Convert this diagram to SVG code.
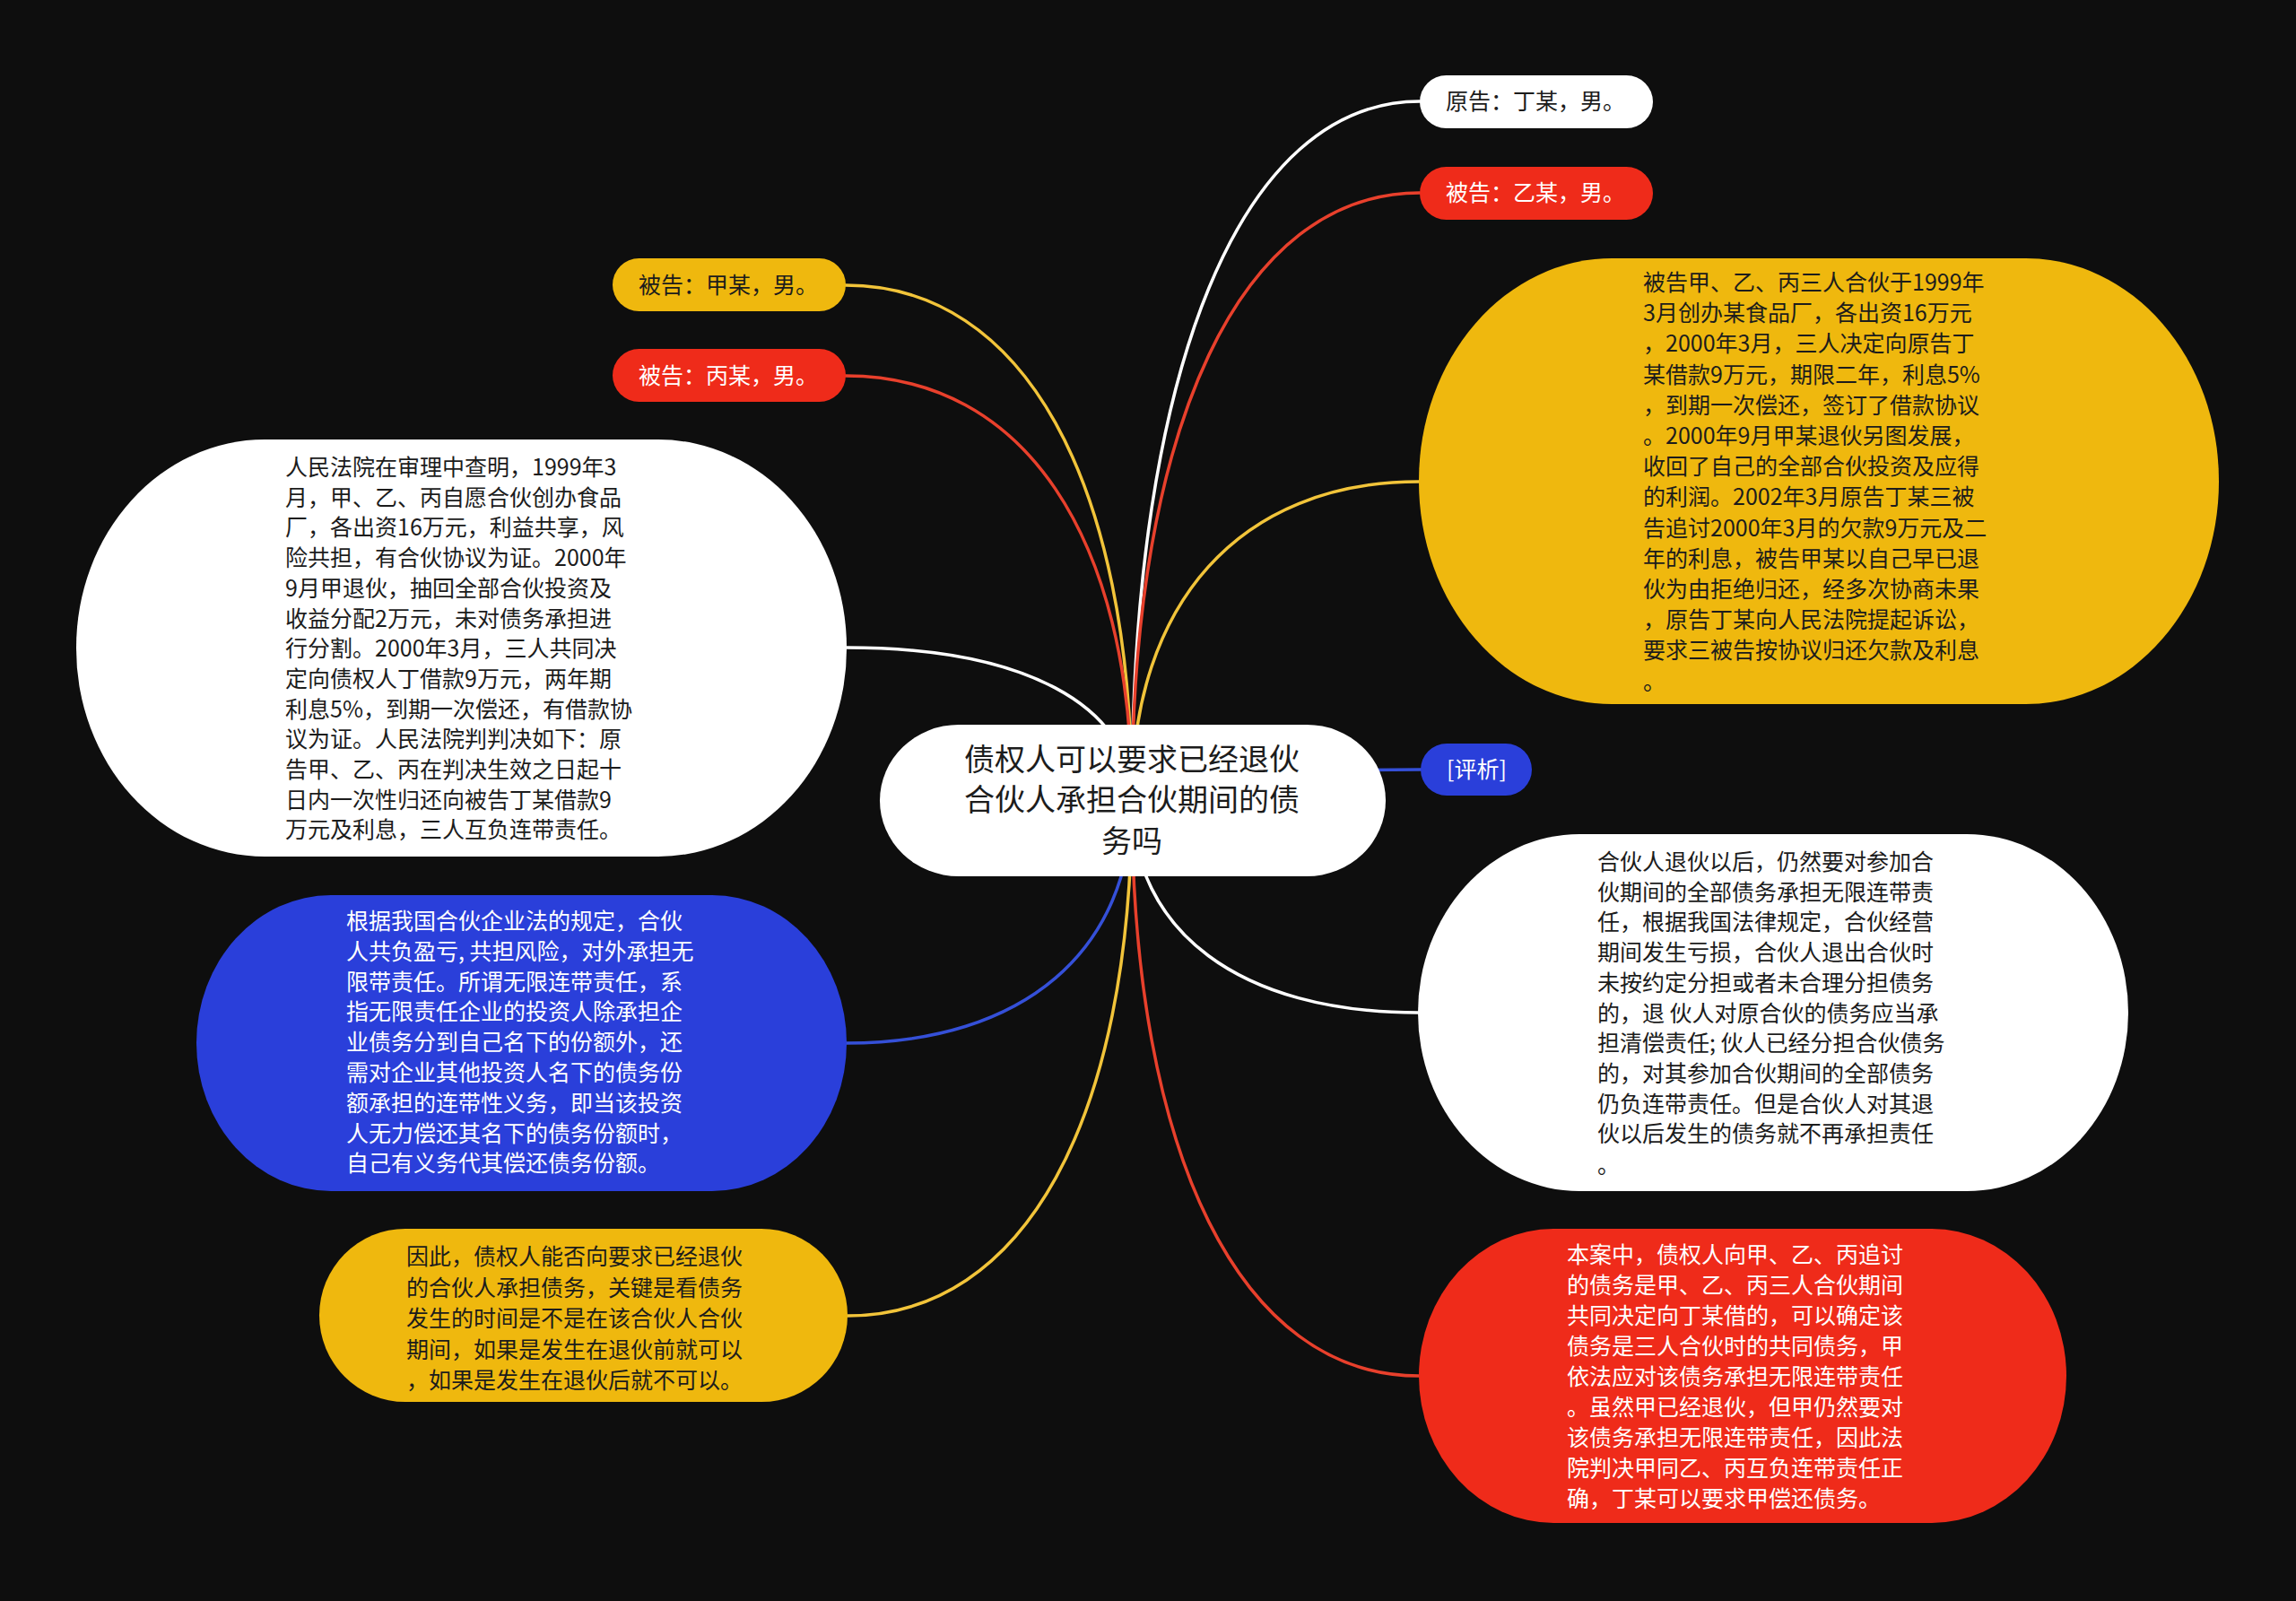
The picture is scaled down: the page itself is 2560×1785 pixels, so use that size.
<svg xmlns="http://www.w3.org/2000/svg" width="2560" height="1785" viewBox="0 0 2560 1785">
<style>
.bg{fill:#0e0e0e}
.c{fill:none;stroke-width:3.5;stroke-linecap:round}
.cw{stroke:#ffffff}.cr{stroke:#e8402c}.cy{stroke:#f2c43a}.cb{stroke:#3550d8}
.nw{fill:#ffffff}.nr{fill:#ef2b1a}.ny{fill:#efb80e}.nb{fill:#2a3fda}
text{font-family:"Noto Sans CJK SC","Noto Sans",sans-serif;font-size:25px}
.td{fill:#1c1c1c}.tl{fill:#ffffff}
.tc{font-size:34px;fill:#1c1c1c;text-anchor:middle}
</style>
<rect class="bg" x="0" y="0" width="2560" height="1785"/>
<g id="connectors">
<path class="c cw" d="M1262 891 C1262 409 1384 113 1583 113"/>
<path class="c cr" d="M1262 891 C1262 472 1384 215 1583 215"/>
<path class="c cy" d="M1262 891 C1262 672 1383 537 1582 537"/>
<path class="c cy" d="M1262 891 C1262 536 1141 318 943 318"/>
<path class="c cr" d="M1262 891 C1262 598 1141 419 943 419"/>
<path class="c cw" d="M1262 891 C1262 786 1141 722 944 722"/>
<path class="c cb" d="M1262 891 C1262 871 1384 858 1584 858"/>
<path class="c cb" d="M1262 891 C1262 1060 1141 1163 944 1163"/>
<path class="c cy" d="M1262 891 C1262 1248 1142 1467 945 1467"/>
<path class="c cw" d="M1262 891 C1262 1039 1383 1129 1581 1129"/>
<path class="c cr" d="M1262 891 C1262 1290 1384 1534 1582 1534"/>
</g>
<g id="node-center">
<rect class="nw" x="981" y="808" width="564" height="169" rx="88" ry="84.5"/>
<text class="tc"><tspan x="1262" y="859">债权人可以要求已经退伙</tspan><tspan x="1262" y="904">合伙人承担合伙期间的债</tspan><tspan x="1262" y="950">务吗</tspan></text>
</g>
<g id="node-yuangao">
<rect class="nw" x="1583" y="84" width="260" height="59" rx="29.5"/>
<text class="td" x="1612" y="122">原告：丁某，男。</text>
</g>
<g id="node-beigao-yi">
<rect class="nr" x="1583" y="186" width="260" height="59" rx="29.5"/>
<text class="tl" x="1612" y="224">被告：乙某，男。</text>
</g>
<g id="node-beigao-jia">
<rect class="ny" x="683" y="288" width="260" height="59" rx="29.5"/>
<text class="td" x="712" y="327">被告：甲某，男。</text>
</g>
<g id="node-beigao-bing">
<rect class="nr" x="683" y="389" width="260" height="59" rx="29.5"/>
<text class="tl" x="712" y="428">被告：丙某，男。</text>
</g>
<g id="node-court">
<rect class="nw" x="85" y="490" width="859" height="465" rx="210" ry="232"/>
<text class="td">
<tspan x="318" y="530">人民法院在审理中查明，1999年3</tspan>
<tspan x="318" y="563.7">月，甲、乙、丙自愿合伙创办食品</tspan>
<tspan x="318" y="597.4">厂，各出资16万元，利益共享，风</tspan>
<tspan x="318" y="631.1">险共担，有合伙协议为证。2000年</tspan>
<tspan x="318" y="664.8">9月甲退伙，抽回全部合伙投资及</tspan>
<tspan x="318" y="698.5">收益分配2万元，未对债务承担进</tspan>
<tspan x="318" y="732.2">行分割。2000年3月，三人共同决</tspan>
<tspan x="318" y="765.9">定向债权人丁借款9万元，两年期</tspan>
<tspan x="318" y="799.6">利息5%，到期一次偿还，有借款协</tspan>
<tspan x="318" y="833.3">议为证。人民法院判判决如下：原</tspan>
<tspan x="318" y="867">告甲、乙、丙在判决生效之日起十</tspan>
<tspan x="318" y="900.7">日内一次性归还向被告丁某借款9</tspan>
<tspan x="318" y="934.4">万元及利息，三人互负连带责任。</tspan>
</text>
</g>
<g id="node-facts">
<rect class="ny" x="1582" y="288" width="892" height="497" rx="215" ry="248"/>
<text class="td">
<tspan x="1832" y="324">被告甲、乙、丙三人合伙于1999年</tspan>
<tspan x="1832" y="358.2">3月创办某食品厂，各出资16万元</tspan>
<tspan x="1832" y="392.4">，2000年3月，三人决定向原告丁</tspan>
<tspan x="1832" y="426.6">某借款9万元，期限二年，利息5%</tspan>
<tspan x="1832" y="460.8">，到期一次偿还，签订了借款协议</tspan>
<tspan x="1832" y="495">。2000年9月甲某退伙另图发展，</tspan>
<tspan x="1832" y="529.2">收回了自己的全部合伙投资及应得</tspan>
<tspan x="1832" y="563.4">的利润。2002年3月原告丁某三被</tspan>
<tspan x="1832" y="597.6">告追讨2000年3月的欠款9万元及二</tspan>
<tspan x="1832" y="631.8">年的利息，被告甲某以自己早已退</tspan>
<tspan x="1832" y="666">伙为由拒绝归还，经多次协商未果</tspan>
<tspan x="1832" y="700.2">，原告丁某向人民法院提起诉讼，</tspan>
<tspan x="1832" y="734.4">要求三被告按协议归还欠款及利息</tspan>
<tspan x="1832" y="768.6">。</tspan>
</text>
</g>
<g id="node-pingxi">
<rect class="nb" x="1584" y="829" width="124" height="58" rx="29"/>
<text class="tl" x="1613" y="867">[评析]</text>
</g>
<g id="node-law">
<rect class="nb" x="219" y="998" width="725" height="330" rx="150" ry="165"/>
<text class="tl">
<tspan x="386" y="1036">根据我国合伙企业法的规定，合伙</tspan>
<tspan x="386" y="1069.8">人共负盈亏, 共担风险，对外承担无</tspan>
<tspan x="386" y="1103.6">限带责任。所谓无限连带责任，系</tspan>
<tspan x="386" y="1137.4">指无限责任企业的投资人除承担企</tspan>
<tspan x="386" y="1171.2">业债务分到自己名下的份额外，还</tspan>
<tspan x="386" y="1205">需对企业其他投资人名下的债务份</tspan>
<tspan x="386" y="1238.8">额承担的连带性义务，即当该投资</tspan>
<tspan x="386" y="1272.6">人无力偿还其名下的债务份额时，</tspan>
<tspan x="386" y="1306.4">自己有义务代其偿还债务份额。</tspan>
</text>
</g>
<g id="node-conclusion">
<rect class="ny" x="356" y="1370" width="589" height="193" rx="96" ry="96.5"/>
<text class="td">
<tspan x="453" y="1410">因此，债权人能否向要求已经退伙</tspan>
<tspan x="453" y="1444.5">的合伙人承担债务，关键是看债务</tspan>
<tspan x="453" y="1479">发生的时间是不是在该合伙人合伙</tspan>
<tspan x="453" y="1513.5">期间，如果是发生在退伙前就可以</tspan>
<tspan x="453" y="1548">，如果是发生在退伙后就不可以。</tspan>
</text>
</g>
<g id="node-rule">
<rect class="nw" x="1581" y="930" width="792" height="398" rx="180" ry="199"/>
<text class="td">
<tspan x="1781" y="970">合伙人退伙以后，仍然要对参加合</tspan>
<tspan x="1781" y="1003.7">伙期间的全部债务承担无限连带责</tspan>
<tspan x="1781" y="1037.4">任，根据我国法律规定，合伙经营</tspan>
<tspan x="1781" y="1071.1">期间发生亏损，合伙人退出合伙时</tspan>
<tspan x="1781" y="1104.8">未按约定分担或者未合理分担债务</tspan>
<tspan x="1781" y="1138.5">的，退 伙人对原合伙的债务应当承</tspan>
<tspan x="1781" y="1172.2">担清偿责任; 伙人已经分担合伙债务</tspan>
<tspan x="1781" y="1205.9">的，对其参加合伙期间的全部债务</tspan>
<tspan x="1781" y="1239.6">仍负连带责任。但是合伙人对其退</tspan>
<tspan x="1781" y="1273.3">伙以后发生的债务就不再承担责任</tspan>
<tspan x="1781" y="1308">。</tspan>
</text>
</g>
<g id="node-case">
<rect class="nr" x="1582" y="1370" width="722" height="328" rx="150" ry="164"/>
<text class="tl">
<tspan x="1747" y="1408">本案中，债权人向甲、乙、丙追讨</tspan>
<tspan x="1747" y="1442">的债务是甲、乙、丙三人合伙期间</tspan>
<tspan x="1747" y="1476">共同决定向丁某借的，可以确定该</tspan>
<tspan x="1747" y="1510">债务是三人合伙时的共同债务，甲</tspan>
<tspan x="1747" y="1544">依法应对该债务承担无限连带责任</tspan>
<tspan x="1747" y="1578">。虽然甲已经退伙，但甲仍然要对</tspan>
<tspan x="1747" y="1612">该债务承担无限连带责任，因此法</tspan>
<tspan x="1747" y="1646">院判决甲同乙、丙互负连带责任正</tspan>
<tspan x="1747" y="1680">确，丁某可以要求甲偿还债务。</tspan>
</text>
</g>
</svg>
